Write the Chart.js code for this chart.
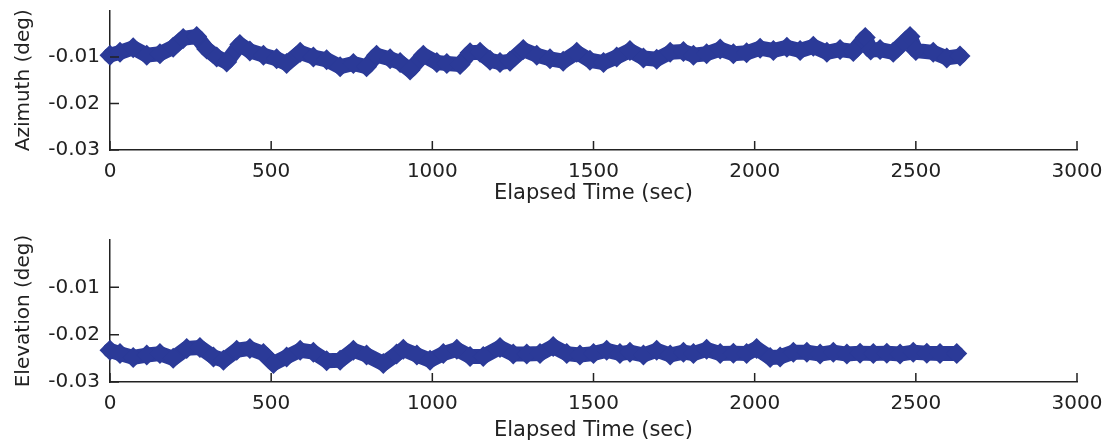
<!DOCTYPE html>
<html>
<head>
<meta charset="utf-8">
<script src="https://cdn.jsdelivr.net/npm/chart.js@4.4.0/dist/chart.umd.min.js"></script>
<style>
  body { margin: 0; background: #fff; }
  #top { position: absolute; left: 0; top: 0; width: 1106px; height: 222px; }
  #bottom { position: absolute; left: 0; top: 222px; width: 1106px; height: 223px; }
</style>
</head>
<body>
<div id="top"><canvas id="azChart"></canvas></div>
<div id="bottom"><canvas id="elChart"></canvas></div>
<script>
// Azimuth readings (sec, deg)
const azTime = [0, 31, 72, 114, 155, 196, 227, 269, 300, 331, 362, 403, 434, 476, 517, 548, 590, 631, 672, 714,
    755, 796, 827, 869, 900, 931, 972, 1014, 1045, 1086, 1117, 1148, 1179, 1210, 1241, 1282, 1324, 1365, 1406, 1448,
    1489, 1531, 1572, 1613, 1655, 1696, 1738, 1779, 1810, 1851, 1893, 1934, 1975, 2017, 2058, 2100, 2141, 2182, 2224, 2265,
    2306, 2343, 2360, 2389, 2430, 2482, 2500, 2554, 2596, 2637];
const azValue = [-0.0096, -0.0090, -0.0080, -0.0096, -0.0093, -0.0079, -0.0060, -0.0056, -0.0083, -0.0100, -0.0111, -0.0073, -0.0087, -0.0096, -0.0104, -0.0114, -0.0090, -0.0100, -0.0106, -0.0121,
    -0.0114, -0.0121, -0.0096, -0.0104, -0.0112, -0.0128, -0.0096, -0.0112, -0.0114, -0.0116, -0.0091, -0.0090, -0.0107, -0.0112, -0.0109, -0.0084, -0.0096, -0.0104, -0.0109, -0.0090,
    -0.0107, -0.0112, -0.0100, -0.0086, -0.0102, -0.0105, -0.0090, -0.0088, -0.0096, -0.0093, -0.0083, -0.0093, -0.0091, -0.0081, -0.0086, -0.0079, -0.0086, -0.0077, -0.0090, -0.0084,
    -0.0088, -0.0058, -0.0085, -0.0084, -0.0090, -0.0056, -0.0086, -0.0090, -0.0102, -0.0098];

// Elevation readings (sec, deg)
const elTime = [0, 31, 72, 114, 155, 196, 238, 279, 321, 352, 393, 434, 476, 507, 548, 590, 631, 672, 714, 755,
    796, 848, 889, 910, 952, 993, 1034, 1076, 1117, 1158, 1210, 1251, 1293, 1334, 1375, 1417, 1458, 1500, 1541, 1582,
    1613, 1655, 1696, 1738, 1779, 1810, 1851, 1893, 1934, 1975, 2006, 2048, 2079, 2120, 2162, 2203, 2244, 2286, 2327, 2368,
    2410, 2451, 2492, 2534, 2575, 2627];
const elValue = [-0.0233, -0.0240, -0.0248, -0.0243, -0.0240, -0.0250, -0.0229, -0.0227, -0.0247, -0.0254, -0.0233, -0.0229, -0.0240, -0.0261, -0.0247, -0.0233, -0.0237, -0.0255, -0.0254, -0.0233,
    -0.0243, -0.0261, -0.0241, -0.0231, -0.0243, -0.0254, -0.0240, -0.0231, -0.0246, -0.0246, -0.0227, -0.0241, -0.0241, -0.0240, -0.0225, -0.0240, -0.0243, -0.0240, -0.0233, -0.0240,
    -0.0237, -0.0243, -0.0233, -0.0243, -0.0237, -0.0240, -0.0231, -0.0240, -0.0239, -0.0240, -0.0229, -0.0248, -0.0247, -0.0237, -0.0237, -0.0241, -0.0237, -0.0241, -0.0239, -0.0240,
    -0.0239, -0.0241, -0.0237, -0.0239, -0.0240, -0.0240];

const xTicks = [0, 500, 1000, 1500, 2000, 2500, 3000];
const yTicks = [-0.03, -0.02, -0.01];

const markColor = '#2b3a98';
const axisColor = '#222';

Chart.defaults.font.family = 'DejaVu Sans';
Chart.defaults.color = axisColor;

// MATLAB style tick marks pointing into the plot
const inwardTicks = {
    id: 'inwardTicks',
    afterDraw(chart) {
        const ctx = chart.ctx;
        const xs = chart.scales.x;
        const ys = chart.scales.y;
        ctx.save();
        ctx.strokeStyle = axisColor;
        ctx.lineWidth = 1.5;
        ctx.beginPath();
        xs.ticks.forEach(t => {
            const px = xs.getPixelForValue(t.value);
            ctx.moveTo(px, ys.bottom);
            ctx.lineTo(px, ys.bottom - 9);
        });
        ys.ticks.forEach(t => {
            const py = ys.getPixelForValue(t.value);
            ctx.moveTo(xs.left, py);
            ctx.lineTo(xs.left + 9, py);
        });
        ctx.stroke();
        ctx.restore();
    }
};

function noPad(scale) {
    scale.paddingTop = 0;
    scale.paddingBottom = 0;
    scale.paddingLeft = 0;
    scale.paddingRight = 0;
}

function makePlot(id, times, values, yTitle, padTop, xHeight, xTitlePad) {
    const points = times.map((t, i) => ({ x: t, y: values[i] }));
    new Chart(document.getElementById(id), {
        type: 'scatter',
        data: {
            datasets: [{
                data: points,
                showLine: true,
                borderColor: markColor,
                borderWidth: 15,
                borderJoinStyle: 'round',
                borderCapStyle: 'round',
                backgroundColor: markColor,
                pointStyle: 'rectRot',
                pointRadius: 10.5,
                pointBorderWidth: 0,
                clip: false
            }]
        },
        options: {
            responsive: true,
            maintainAspectRatio: false,
            animation: false,
            layout: { padding: { top: padTop, right: 29, left: 0, bottom: 0 } },
            plugins: {
                legend: { display: false },
                tooltip: { enabled: false }
            },
            scales: {
                x: {
                    type: 'linear',
                    min: 0,
                    max: 3000,
                    grid: { display: false, drawTicks: false },
                    border: { display: true, color: axisColor, width: 1.5 },
                    afterBuildTicks: scale => { scale.ticks = xTicks.map(v => ({ value: v })); },
                    afterFit: scale => { scale.height = xHeight; noPad(scale); },
                    ticks: {
                        padding: 10,
                        maxRotation: 0,
                        autoSkip: false,
                        font: { size: 20 },
                        callback: v => String(v)
                    },
                    title: {
                        display: true,
                        text: 'Elapsed Time (sec)',
                        font: { size: 21 },
                        padding: { top: 0, bottom: xTitlePad }
                    }
                },
                y: {
                    type: 'linear',
                    min: -0.03,
                    max: 0,
                    grid: { display: false, drawTicks: false },
                    border: { display: true, color: axisColor, width: 1.5 },
                    afterBuildTicks: scale => { scale.ticks = yTicks.map(v => ({ value: v })); },
                    afterFit: scale => { scale.width = 110; noPad(scale); },
                    ticks: {
                        padding: 10,
                        font: { size: 20 },
                        callback: v => v.toFixed(2)
                    },
                    title: {
                        display: true,
                        text: yTitle,
                        font: { size: 20 },
                        padding: { top: 12, bottom: 0 }
                    }
                }
            }
        },
        plugins: [inwardTicks]
    });
}

makePlot('azChart', azTime, azValue, 'Azimuth (deg)', 9, 72, 16);
makePlot('elChart', elTime, elValue, 'Elevation (deg)', 18, 63, 2);
</script>
</body>
</html>
